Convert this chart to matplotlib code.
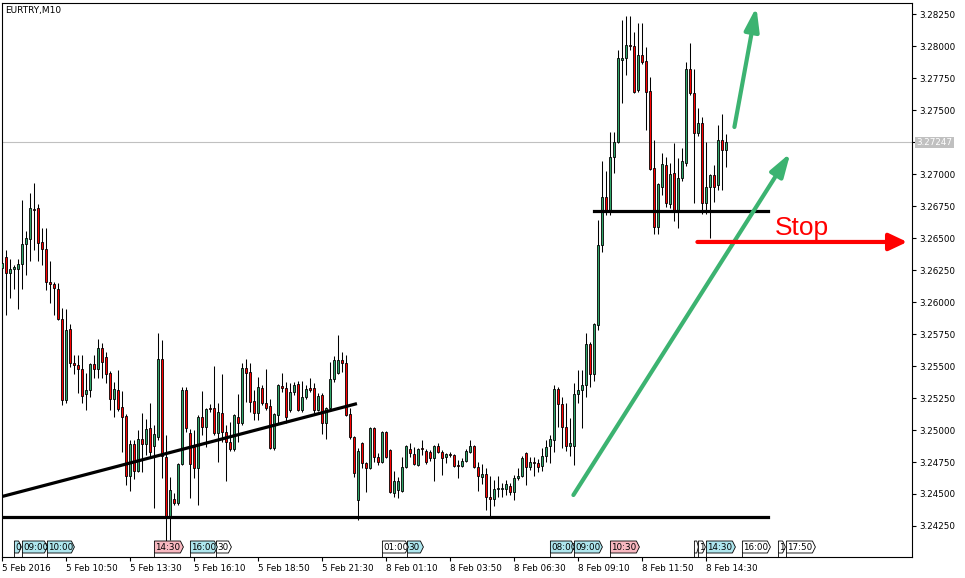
import numpy as np
import matplotlib.pyplot as plt
from matplotlib.patches import Polygon
from matplotlib.transforms import blended_transform_factory

# EURTRY M10 candles, 5-8 Feb 2016 (one bar every 10 minutes)
symbol = "EURTRY,M10"

opens = [3.26266, 3.26352, 3.26227, 3.26258, 3.26258, 3.26297, 3.26453, 3.26492, 3.26727, 3.26734,
         3.26469, 3.26414, 3.26156, 3.26141, 3.26102, 3.25867, 3.25234, 3.25789, 3.25523, 3.25508,
         3.25477, 3.25281, 3.25312, 3.25516, 3.25477, 3.25641, 3.25570, 3.25445, 3.25242, 3.25312,
         3.25180, 3.25109, 3.24641, 3.24891, 3.24680, 3.24930, 3.24891, 3.25016, 3.24875, 3.24945,
         3.25555, 3.24789, 3.24312, 3.24461, 3.24430, 3.24734, 3.25312, 3.24977, 3.24867, 3.24703,
         3.25102, 3.25023, 3.25172, 3.25172, 3.24977, 3.25133, 3.24984, 3.24906, 3.24852, 3.25102,
         3.25055, 3.25484, 3.25453, 3.25227, 3.25133, 3.25328, 3.25211, 3.25187, 3.24859, 3.25117,
         3.25344, 3.25328, 3.25156, 3.25297, 3.25359, 3.25156, 3.25258, 3.25328, 3.25328, 3.25156,
         3.25273, 3.25055, 3.25172, 3.25398, 3.25445, 3.25547, 3.25523, 3.25125, 3.24945, 3.24453,
         3.24898, 3.24742, 3.24703, 3.25016, 3.24789, 3.24750, 3.24984, 3.24844, 3.24508, 3.24531,
         3.24523, 3.24711, 3.24852, 3.24812, 3.24727, 3.24859, 3.24836, 3.24828, 3.24781, 3.24875,
         3.24828, 3.24789, 3.24812, 3.24805, 3.24727, 3.24719, 3.24758, 3.24828, 3.24875, 3.24711,
         3.24633, 3.24656, 3.24477, 3.24461, 3.24539, 3.24539, 3.24539, 3.24562, 3.24516, 3.24625,
         3.24641, 3.24820, 3.24711, 3.24750, 3.24742, 3.24719, 3.24797, 3.24875, 3.24922, 3.25320,
         3.25203, 3.25023, 3.24875, 3.24875, 3.25281, 3.25312, 3.25352, 3.25672, 3.25437, 3.25820,
         3.26445, 3.26820, 3.26719, 3.27133, 3.27250, 3.27891, 3.27906, 3.28008, 3.28000, 3.27656,
         3.27930, 3.27883, 3.27648, 3.27047, 3.26586, 3.26898, 3.27070, 3.26766, 3.27008, 3.26719,
         3.26969, 3.27086, 3.27820, 3.27633, 3.27320, 3.27398, 3.26773, 3.26898, 3.26992, 3.26914,
         3.27266, 3.27187]

highs = [3.26359, 3.26406, 3.26336, 3.26289, 3.26336, 3.26797, 3.26555, 3.26852, 3.26930, 3.26766,
         3.26578, 3.26578, 3.26320, 3.26156, 3.26148, 3.25953, 3.25945, 3.25828, 3.25586, 3.25586,
         3.25586, 3.25445, 3.25523, 3.25586, 3.25711, 3.25680, 3.25609, 3.25461, 3.25375, 3.25469,
         3.25305, 3.25125, 3.24922, 3.24922, 3.25000, 3.25133, 3.25086, 3.25211, 3.25039, 3.25758,
         3.25703, 3.24961, 3.24633, 3.24508, 3.24742, 3.25336, 3.25336, 3.25008, 3.25000, 3.25117,
         3.25305, 3.25172, 3.25203, 3.25500, 3.25211, 3.25437, 3.25039, 3.25062, 3.25125, 3.25281,
         3.25523, 3.25555, 3.25523, 3.25312, 3.25414, 3.25352, 3.25477, 3.25242, 3.25133, 3.25359,
         3.25445, 3.25375, 3.25367, 3.25375, 3.25383, 3.25383, 3.25352, 3.25406, 3.25367, 3.25289,
         3.25289, 3.25180, 3.25531, 3.25578, 3.25742, 3.25609, 3.25586, 3.25172, 3.24953, 3.24859,
         3.24906, 3.24750, 3.25023, 3.25023, 3.24820, 3.24992, 3.24992, 3.24852, 3.24680, 3.24633,
         3.24789, 3.24883, 3.24898, 3.24867, 3.24859, 3.24922, 3.24852, 3.24844, 3.24883, 3.24898,
         3.24844, 3.24820, 3.24828, 3.24812, 3.24766, 3.24781, 3.24852, 3.24922, 3.24883, 3.24750,
         3.24734, 3.24703, 3.24641, 3.24609, 3.24641, 3.24586, 3.24609, 3.24586, 3.24648, 3.24703,
         3.24797, 3.24828, 3.24789, 3.24789, 3.24773, 3.24859, 3.24922, 3.24961, 3.25352, 3.25336,
         3.25258, 3.25211, 3.25094, 3.25367, 3.25469, 3.25469, 3.25758, 3.25687, 3.25836, 3.26641,
         3.27102, 3.27023, 3.27328, 3.27328, 3.27969, 3.28203, 3.28234, 3.28234, 3.28109, 3.28180,
         3.28180, 3.27992, 3.27758, 3.27266, 3.26930, 3.27164, 3.27133, 3.27086, 3.27242, 3.27125,
         3.27203, 3.27875, 3.28023, 3.27820, 3.27516, 3.27445, 3.27250, 3.27000, 3.27070, 3.27383,
         3.27469, 3.27312]

lows = [3.26109, 3.25898, 3.26031, 3.26102, 3.25945, 3.26102, 3.26211, 3.26320, 3.26406, 3.26320,
        3.26289, 3.26094, 3.25992, 3.25898, 3.25859, 3.25195, 3.25211, 3.25492, 3.25437, 3.25289,
        3.25211, 3.25156, 3.25258, 3.25406, 3.25406, 3.25406, 3.25367, 3.25156, 3.25102, 3.25148,
        3.24828, 3.24570, 3.24523, 3.24617, 3.24672, 3.24672, 3.24805, 3.24789, 3.24391, 3.24922,
        3.24625, 3.24133, 3.24141, 3.24414, 3.24414, 3.24727, 3.24984, 3.24469, 3.24625, 3.24414,
        3.24961, 3.24867, 3.25141, 3.24961, 3.24750, 3.24906, 3.24602, 3.24836, 3.24836, 3.24906,
        3.25039, 3.25219, 3.25141, 3.25078, 3.25078, 3.25195, 3.25156, 3.24852, 3.24844, 3.25055,
        3.25297, 3.25055, 3.25141, 3.25273, 3.25148, 3.25141, 3.25242, 3.25297, 3.25133, 3.25148,
        3.24969, 3.24930, 3.25156, 3.25375, 3.25437, 3.25453, 3.25109, 3.24930, 3.24633, 3.24297,
        3.24703, 3.24516, 3.24695, 3.24750, 3.24727, 3.24742, 3.24781, 3.24508, 3.24477, 3.24469,
        3.24516, 3.24703, 3.24789, 3.24727, 3.24719, 3.24805, 3.24734, 3.24758, 3.24602, 3.24820,
        3.24648, 3.24742, 3.24789, 3.24711, 3.24625, 3.24711, 3.24750, 3.24820, 3.24703, 3.24523,
        3.24578, 3.24375, 3.24320, 3.24406, 3.24477, 3.24477, 3.24492, 3.24492, 3.24453, 3.24609,
        3.24633, 3.24570, 3.24687, 3.24641, 3.24672, 3.24680, 3.24750, 3.24742, 3.24828, 3.25023,
        3.24859, 3.24836, 3.24797, 3.24727, 3.25211, 3.25016, 3.25258, 3.25336, 3.25383, 3.25781,
        3.26391, 3.26680, 3.26680, 3.27008, 3.27242, 3.27555, 3.27773, 3.27969, 3.27633, 3.27641,
        3.27859, 3.27344, 3.27031, 3.26531, 3.26531, 3.26836, 3.26742, 3.26734, 3.26633, 3.26578,
        3.26945, 3.27062, 3.27617, 3.26773, 3.27297, 3.26687, 3.26687, 3.26500, 3.26781, 3.26875,
        3.26875, 3.27055]

closes = [3.26305, 3.26227, 3.26258, 3.26273, 3.26297, 3.26453, 3.26500, 3.26734, 3.26719, 3.26461,
          3.26414, 3.26156, 3.26141, 3.26109, 3.25867, 3.25234, 3.25781, 3.25523, 3.25508, 3.25477,
          3.25266, 3.25312, 3.25516, 3.25477, 3.25641, 3.25531, 3.25437, 3.25242, 3.25320, 3.25164,
          3.25102, 3.24641, 3.24891, 3.24680, 3.24930, 3.24891, 3.25008, 3.24828, 3.24969, 3.25555,
          3.24797, 3.24312, 3.24531, 3.24430, 3.24734, 3.25312, 3.25016, 3.24734, 3.24703, 3.25102,
          3.25023, 3.25164, 3.25164, 3.24977, 3.25141, 3.24984, 3.24906, 3.24852, 3.25117, 3.25055,
          3.25484, 3.25445, 3.25219, 3.25133, 3.25336, 3.25211, 3.25172, 3.24859, 3.25125, 3.25352,
          3.25328, 3.25102, 3.25297, 3.25352, 3.25156, 3.25258, 3.25320, 3.25312, 3.25156, 3.25266,
          3.25055, 3.25172, 3.25398, 3.25547, 3.25547, 3.25523, 3.25117, 3.24945, 3.24664, 3.24836,
          3.24742, 3.24703, 3.25016, 3.24789, 3.24750, 3.24984, 3.24789, 3.24516, 3.24602, 3.24602,
          3.24711, 3.24875, 3.24820, 3.24734, 3.24852, 3.24852, 3.24750, 3.24781, 3.24875, 3.24828,
          3.24781, 3.24812, 3.24805, 3.24719, 3.24719, 3.24758, 3.24836, 3.24875, 3.24711, 3.24641,
          3.24656, 3.24477, 3.24461, 3.24539, 3.24547, 3.24547, 3.24578, 3.24516, 3.24625, 3.24641,
          3.24781, 3.24711, 3.24750, 3.24742, 3.24711, 3.24797, 3.24867, 3.24930, 3.25320, 3.25203,
          3.25023, 3.24875, 3.24898, 3.25281, 3.25312, 3.25352, 3.25672, 3.25437, 3.25828, 3.26445,
          3.26820, 3.26719, 3.27133, 3.27250, 3.27906, 3.27906, 3.28008, 3.28000, 3.27641, 3.27930,
          3.27875, 3.27641, 3.27039, 3.26586, 3.26922, 3.27078, 3.26773, 3.27000, 3.26719, 3.26969,
          3.27102, 3.27820, 3.27633, 3.27320, 3.27398, 3.26773, 3.26898, 3.26992, 3.26898, 3.27266,
          3.27187, 3.27247]

time_labels = ["5 Feb 2016", "5 Feb 10:50", "5 Feb 13:30", "5 Feb 16:10", "5 Feb 18:50", "5 Feb 21:30",
               "8 Feb 01:10", "8 Feb 03:50", "8 Feb 06:30", "8 Feb 09:10", "8 Feb 11:50", "8 Feb 14:30"]
label_step = 16  # bars between time labels

price_ticks = np.arange(3.2425, 3.28251, 0.0025)
last_price = 3.27247

# drawn levels
support_level = 3.24320
resistance_level = 3.26711
trend_start = (-0.5, 3.24477)
trend_end = (88.25, 3.25203)
stop_level = 3.26469

# calendar event markers: (bar position, width in bars, text, colour) in drawing order
cyan, pink, white = "#aee6ee", "#f8b8c0", "#ffffff"
events = [
    (3.0, 1.75, "0", cyan),
    (11.25, 6.75, "10:00", cyan),
    (5.0, 6.25, "09:00", cyan),
    (38.0, 7.25, "14:30", pink),
    (53.5, 3.75, "30", white),
    (47.0, 6.75, "16:00", cyan),
    (101.25, 4.0, "30", cyan),
    (95.0, 6.5, "01:00", white),
    (137.0, 6.0, "08:00", cyan),
    (143.0, 7.0, "09:00", cyan),
    (152.0, 7.25, "10:30", pink),
    (173.0, 1.0, "", white),
    (174.0, 1.75, "1", white),
    (176.0, 7.25, "14:30", cyan),
    (185.0, 7.0, "16:00", white),
    (194.0, 1.75, "1", white),
    (196.0, 7.25, "17:50", white),
]

o = np.array(opens)
h = np.array(highs)
l = np.array(lows)
c = np.array(closes)
x = np.arange(len(o))
up = c >= o

fig = plt.figure(figsize=(9.65, 5.78), dpi=100)
fig.patch.set_facecolor("white")
ax = fig.add_axes([2 / 965, 21 / 578, 910 / 965, 554 / 578])

ax.set_xlim(-0.1, 227.4)
ax.set_ylim(3.240078, 3.28336)

# current price line
ax.axhline(last_price, color="#c0c0c0", lw=0.8, zorder=1)

# candles
ax.vlines(x, l, h, color="black", lw=0.75, zorder=2)
ax.bar(x[up], c[up] - o[up], bottom=o[up], width=0.5, color="#2fa66a",
       edgecolor="black", linewidth=0.6, zorder=3)
ax.bar(x[~up], c[~up] - o[~up], bottom=o[~up], width=0.5, color="#ff0000",
       edgecolor="black", linewidth=0.6, zorder=3)

# hand drawn lines
ax.plot([-0.5, 191.5], [support_level] * 2, color="black", lw=2.3, zorder=4)
ax.plot([148, 191.5], [resistance_level] * 2, color="black", lw=2.3, zorder=4)
ax.plot([trend_start[0], trend_end[0]], [trend_start[1], trend_end[1]], color="black", lw=2.3, zorder=4)

green = "#3cb371"
ax.annotate("", xy=(197.0, 3.27164), xytext=(142.75, 3.24492),
            arrowprops=dict(arrowstyle="-|>,head_length=0.7,head_width=0.22", color=green,
                            lw=3, mutation_scale=20, shrinkA=0, shrinkB=0), zorder=5)
ax.annotate("", xy=(188.5, 3.28305), xytext=(183.0, 3.27367),
            arrowprops=dict(arrowstyle="-|>,head_length=0.7,head_width=0.22", color=green,
                            lw=3, mutation_scale=20, shrinkA=0, shrinkB=0), zorder=5)
ax.annotate("", xy=(226.2, stop_level), xytext=(173.75, stop_level),
            arrowprops=dict(arrowstyle="-|>,head_length=0.55,head_width=0.26", color="#ff0000",
                            lw=3, mutation_scale=20, shrinkA=0, shrinkB=0), zorder=5)
ax.text(200, 3.26578, "Stop", color="#ff0000", fontsize=19, family="Liberation Sans",
        ha="center", va="center", zorder=6)

ax.text(3 / 910, 1 - 7 / 554, symbol, transform=ax.transAxes, fontsize=6.5,
        ha="left", va="center")

# axes styling
for s in ax.spines.values():
    s.set_color("black")
    s.set_linewidth(0.8)

ax.yaxis.tick_right()
ax.set_yticks(price_ticks)
ax.set_yticklabels(["" if abs(v - 3.2725) < 1e-6 else f"{v:.5f}" for v in price_ticks])
ax.tick_params(axis="y", direction="out", length=3, width=0.8, labelsize=6.3, pad=2)

ax.set_xticks(np.arange(len(time_labels)) * label_step)
ax.set_xticklabels(time_labels)
ax.tick_params(axis="x", direction="out", length=3, width=0.8, labelsize=6.3, pad=2)
for t in ax.get_xticklabels():
    t.set_horizontalalignment("left")

# last price tag
yt = blended_transform_factory(ax.transAxes, ax.transData)
ax.text(1.005, last_price, f"{last_price:.5f}", transform=yt, fontsize=6.3, color="white",
        ha="left", va="center", clip_on=False,
        bbox=dict(boxstyle="square,pad=0.15", fc="#c0c0c0", ec="none"))

# event markers along the time axis
et = blended_transform_factory(ax.transData, ax.transAxes)
y0, y1 = 4 / 554, 16 / 554
z = 7
for pos, w, txt, col in events:
    tip = min(0.75, w * 0.4)
    pts = [(pos, y0), (pos + w - tip, y0), (pos + w, (y0 + y1) / 2), (pos + w - tip, y1), (pos, y1)]
    ax.add_patch(Polygon(pts, closed=True, transform=et, fc=col, ec="black", lw=0.6, zorder=z))
    ax.plot([pos, pos], [0, y0], transform=et, color="black", lw=0.6, zorder=z)
    if txt:
        ax.text(pos + 0.25, (y0 + y1) / 2, txt, transform=et, fontsize=6.3, ha="left",
                va="center", zorder=z + 0.5)
    z += 1

fig.savefig("out.png", dpi=100, facecolor="white")
